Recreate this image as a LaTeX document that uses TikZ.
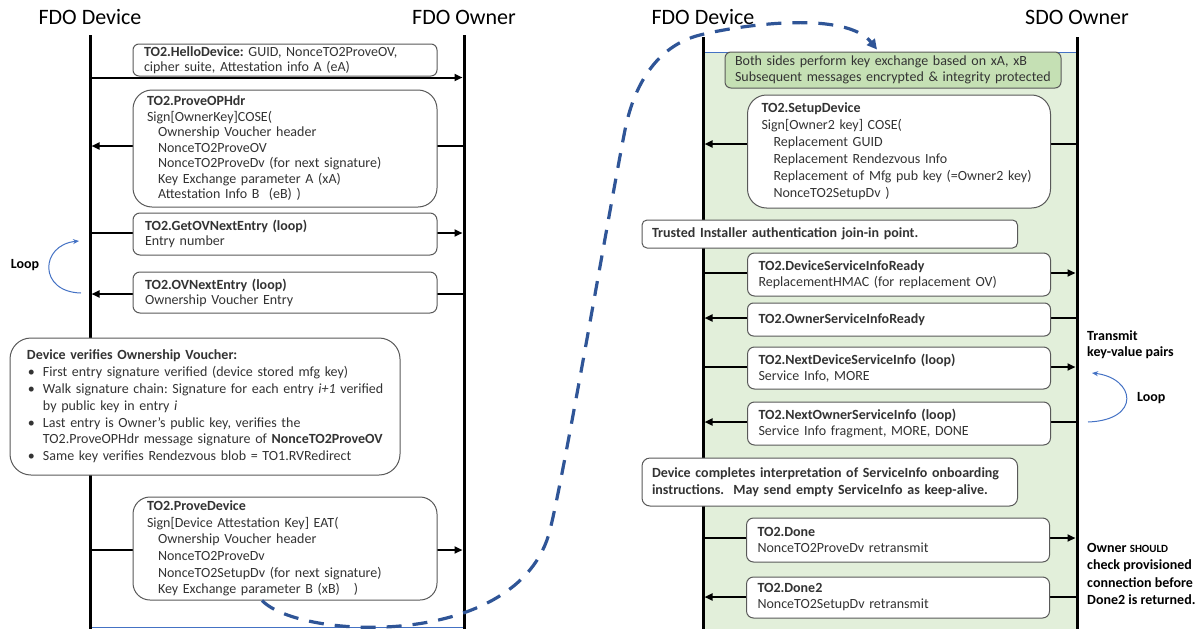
\documentclass[tikz,border=0pt]{standalone}
\usepackage{fontspec}
\setmainfont{Carlito}
\usetikzlibrary{arrows.meta,calc}
\definecolor{txt}{HTML}{333333}
\definecolor{boxline}{HTML}{595959}
\definecolor{greenbg}{HTML}{E2EFDA}
\definecolor{greenbox}{HTML}{C5E0B4}
\definecolor{dashblue}{HTML}{2F5597}
\definecolor{thinblue}{HTML}{4472C4}
\begin{document}
\frenchspacing
\begin{tikzpicture}[x=1pt,y=-1pt,
  msgbox/.style={draw=boxline, line width=1pt, fill=white, align=left, inner ysep=0pt, text=txt},
  lifeline/.style={line width=3pt, draw=black},
  msg/.style={line width=2pt, draw=black, shorten >=1.5pt, -{Triangle[length=8pt,width=7pt]}},
  titlelbl/.style={font=\fontsize{22}{26}\selectfont, text=black, inner sep=0pt, anchor=base},
  lbl/.style={font=\fontsize{14}{16}\selectfont\bfseries, text=black, inner sep=0pt},
  blueedge/.style={draw=thinblue, line width=0.8pt},
  loopline/.style={draw=thinblue, line width=1pt, -{Stealth[length=6pt,width=5pt]}},
  dashcurve/.style={draw=dashblue, line width=3.2pt, dash pattern=on 15pt off 11pt, -{Triangle[length=10pt,width=10pt]}}
]
\useasboundingbox (0,0) rectangle (1199,629);

% lifeline end points
\coordinate (L1t) at (90,35);  \coordinate (L1b) at (90,629);
\coordinate (R1t) at (464,35); \coordinate (R1b) at (464,629);
\coordinate (L2t) at (703,37); \coordinate (L2b) at (703,629);
\coordinate (R2t) at (1077,37); \coordinate (R2b) at (1077,629);

% green secure-channel area
\fill[greenbg] ($(L2t)+(0,15)$) rectangle (R2b);
\draw[blueedge] ($(L2t)+(0,15)$) -- ($(R2t)+(0,15)$);
\draw[blueedge] ($(L1b)+(0,-2)$) -- ($(R1b)+(0,-2)$);

% titles
\node[titlelbl] (t1) at (90,24) {FDO Device};
\node[titlelbl] (t2) at (464,24) {FDO Owner};
\node[titlelbl] (t3) at (703,24) {FDO Device};
\node[titlelbl] (t4) at (1077,24) {SDO Owner};

% lifelines
\draw[lifeline] (L1t) -- (L1b);
\draw[lifeline] (R1t) -- (R1b);
\draw[lifeline] (L2t) -- (L2b);
\draw[lifeline] (R2t) -- (R2b);

% ---------- left side ----------
\coordinate (helloc) at (285,60);
\coordinate (proveopc) at (285,148.5);
\coordinate (getovc) at (285,234);
\coordinate (ovnextc) at (285,292.5);
\coordinate (provedevc) at (285,548.5);

\draw[msg] ($(L1t |- helloc)+(0,17.5)$) -- ($(R1t |- helloc)+(0,17.5)$);
\draw[msg] ($(R1t |- proveopc)+(0,-2.5)$) -- ($(L1t |- proveopc)+(0,-2.5)$);
\draw[msg] ($(L1t |- getovc)+(0,-1)$) -- ($(R1t |- getovc)+(0,-1)$);
\draw[msg] ($(R1t |- ovnextc)+(0,1.5)$) -- ($(L1t |- ovnextc)+(0,1.5)$);
\draw[msg] ($(L1t |- provedevc)+(0,1.5)$) -- ($(R1t |- provedevc)+(0,1.5)$);

\node[msgbox, rounded corners=6pt, minimum width=304pt, minimum height=32pt, inner xsep=11pt, text width=282pt, font=\fontsize{14}{15}\selectfont] (hello) at (helloc)
   {\textbf{TO2.HelloDevice:} GUID, NonceTO2ProveOV,\\cipher suite, Attestation info A (eA)};
\node[msgbox, rounded corners=19pt, minimum width=304pt, minimum height=117pt, inner xsep=14pt, text width=276pt, font=\fontsize{14}{15.5}\selectfont] (proveop) at (proveopc)
   {\textbf{TO2.ProveOPHdr}\\Sign[OwnerKey]COSE(\\\hspace*{11pt}Ownership Voucher header\\\hspace*{11pt}NonceTO2ProveOV\\\hspace*{11pt}NonceTO2ProveDv (for next signature)\\\hspace*{11pt}Key Exchange parameter A (xA)\\\hspace*{11pt}Attestation Info B\ \ (eB) )};
\node[msgbox, rounded corners=7pt, minimum width=304pt, minimum height=42pt, inner xsep=12pt, text width=280pt, font=\fontsize{14}{15}\selectfont] (getov) at (getovc)
   {\textbf{TO2.GetOVNextEntry (loop)}\\Entry number};
\node[msgbox, rounded corners=7pt, minimum width=304pt, minimum height=41pt, inner xsep=12pt, text width=280pt, font=\fontsize{14}{15}\selectfont] (ovnext) at (ovnextc)
   {\textbf{TO2.OVNextEntry (loop)}\\Ownership Voucher Entry};
\node[msgbox, rounded corners=17pt, minimum width=304pt, minimum height=103pt, inner xsep=14pt, text width=276pt, font=\fontsize{14}{16.6}\selectfont] (provedev) at (provedevc)
   {\textbf{TO2.ProveDevice}\\Sign[Device Attestation Key] EAT(\\\hspace*{11pt}Ownership Voucher header\\\hspace*{11pt}NonceTO2ProveDv\\\hspace*{11pt}NonceTO2SetupDv (for next signature)\\\hspace*{11pt}Key Exchange parameter B (xB)\ \ \ )};

\node[msgbox, rounded corners=21pt, minimum width=390pt, minimum height=137pt, inner xsep=17pt, text width=356pt, font=\fontsize{14}{16.8}\selectfont] (verify) at (205,406.5)
   {\textbf{Device verifies Ownership Voucher:}\\
    \mbox{\makebox[16pt][l]{\hspace{1pt}•}First entry signature verified (device stored mfg key)}\\
    \mbox{\makebox[16pt][l]{\hspace{1pt}•}Walk signature chain: Signature for each entry \textit{i+1} verified}\\
    \hspace*{16pt}by public key in entry \textit{i}\\
    \mbox{\makebox[16pt][l]{\hspace{1pt}•}Last entry is Owner’s public key, verifies the}\\
    \mbox{\hspace*{16pt}TO2.ProveOPHdr message signature of \textbf{NonceTO2ProveOV}}\\
    \mbox{\makebox[16pt][l]{\hspace{1pt}•}Same key verifies Rendezvous blob = TO1.RVRedirect}};

% left loop
\coordinate (lpa) at (81,293);
\coordinate (lpb) at (79,241);
\draw[loopline] (lpa) .. controls (38,292) and (40,245) .. (lpb);
\node[lbl] (loopL) at (25,265) {Loop};

% ---------- right side ----------
\coordinate (setupc) at (899,151.5);
\coordinate (dsirc) at (899,274.5);
\coordinate (osirc) at (899,319.5);
\coordinate (ndsic) at (899,368);
\coordinate (nosic) at (899,423.5);
\coordinate (donec) at (898,540);
\coordinate (done2c) at (898,597.5);

\draw[msg] ($(R2t |- setupc)+(0,-7.5)$) -- ($(L2t |- setupc)+(0,-7.5)$);
\draw[msg] ($(L2t |- dsirc)+(0,-1.5)$) -- ($(R2t |- dsirc)+(0,-1.5)$);
\draw[msg] ($(R2t |- osirc)+(0,-1.5)$) -- ($(L2t |- osirc)+(0,-1.5)$);
\draw[msg] ($(L2t |- ndsic)+(0,-1)$) -- ($(R2t |- ndsic)+(0,-1)$);
\draw[msg] ($(R2t |- nosic)+(0,-1.5)$) -- ($(L2t |- nosic)+(0,-1.5)$);
\draw[msg] ($(L2t |- donec)+(0,-2)$) -- ($(R2t |- donec)+(0,-2)$);
\draw[msg] ($(R2t |- done2c)+(0,-0.5)$) -- ($(L2t |- done2c)+(0,-0.5)$);

\node[msgbox, fill=greenbox, rounded corners=6pt, minimum width=336pt, minimum height=36pt, inner xsep=10pt, text width=316pt, font=\fontsize{14}{16}\selectfont] (keyx) at (893,70)
   {Both sides perform key exchange based on xA, xB\\Subsequent messages encrypted \& integrity protected};
\node[msgbox, rounded corners=19pt, minimum width=303pt, minimum height=113pt, inner xsep=14pt, text width=275pt, font=\fontsize{14}{17}\selectfont] (setup) at (setupc)
   {\textbf{TO2.SetupDevice}\\Sign[Owner2 key] COSE(\\\hspace*{12pt}Replacement GUID\\\hspace*{12pt}Replacement Rendezvous Info\\\hspace*{12pt}Replacement of Mfg pub key (=Owner2 key)\\\hspace*{12pt}NonceTO2SetupDv )};
\node[msgbox, rounded corners=5pt, minimum width=375.5pt, minimum height=28pt, inner xsep=10pt, text width=355.5pt, font=\fontsize{14}{16}\selectfont\bfseries] (trusted) at (829.75,234)
   {Trusted Installer authentication join-in point.};
\node[msgbox, rounded corners=7pt, minimum width=303pt, minimum height=43pt, inner xsep=11pt, text width=281pt, font=\fontsize{14}{16}\selectfont] (dsir) at (dsirc)
   {\textbf{TO2.DeviceServiceInfoReady}\\ReplacementHMAC (for replacement OV)};
\node[msgbox, rounded corners=6pt, minimum width=303pt, minimum height=33pt, inner xsep=11pt, text width=281pt, font=\fontsize{14}{16}\selectfont] (osir) at (osirc)
   {\textbf{TO2.OwnerServiceInfoReady}};
\node[msgbox, rounded corners=7pt, minimum width=303pt, minimum height=42pt, inner xsep=11pt, text width=281pt, font=\fontsize{14}{16}\selectfont] (ndsi) at (ndsic)
   {\textbf{TO2.NextDeviceServiceInfo (loop)}\\Service Info, MORE};
\node[msgbox, rounded corners=7pt, minimum width=303pt, minimum height=43pt, inner xsep=11pt, text width=281pt, font=\fontsize{14}{16}\selectfont] (nosi) at (nosic)
   {\textbf{TO2.NextOwnerServiceInfo (loop)}\\Service Info fragment, MORE, DONE};
\node[msgbox, rounded corners=8pt, minimum width=375.5pt, minimum height=48pt, inner xsep=10pt, text width=355.5pt, font=\fontsize{14}{17.5}\selectfont\bfseries] (complete) at (829.75,482)
   {\mbox{Device completes interpretation of ServiceInfo onboarding}\\\mbox{instructions.\ \ May send empty ServiceInfo as keep-alive.}};
\node[msgbox, rounded corners=7pt, minimum width=303pt, minimum height=44pt, inner xsep=11pt, text width=281pt, font=\fontsize{14}{16}\selectfont] (done) at (donec)
   {\textbf{TO2.Done}\\NonceTO2ProveDv retransmit};
\node[msgbox, rounded corners=7pt, minimum width=303pt, minimum height=41pt, inner xsep=11pt, text width=281pt, font=\fontsize{14}{16}\selectfont] (done2) at (done2c)
   {\textbf{TO2.Done2}\\NonceTO2SetupDv retransmit};

% right loop and side labels
\coordinate (lqa) at (1088,422);
\coordinate (lqb) at (1092,373);
\draw[loopline] (lqa) .. controls (1142,420) and (1135,378) .. (lqb);
\node[lbl, anchor=west] (loopR) at (1137,398) {Loop};
\node[lbl, anchor=west, align=left] (kv) at (1087,345) {Transmit\\key-value pairs};
\node[lbl, anchor=west, align=left, font=\fontsize{14}{17.3}\selectfont\bfseries] (should) at (1087,574)
   {Owner {\fontsize{11}{17.3}\selectfont SHOULD}\\check provisioned\\connection before\\Done2 is returned.};

% dashed transition curve
\coordinate (cs) at ($(provedev.south)+(-23,0)$);
\coordinate (ce) at ($(keyx.north)+(-16,-2)$);
\draw[dashcurve] (cs) .. controls (300,640) and (520,650) .. (550,530)
   .. controls (565,470) and (612,195) .. (625,130)
   .. controls (635,80) and (660,45) .. (700,35)
   .. controls (740,25) and (845,10) .. (ce);
\end{tikzpicture}
\end{document}
